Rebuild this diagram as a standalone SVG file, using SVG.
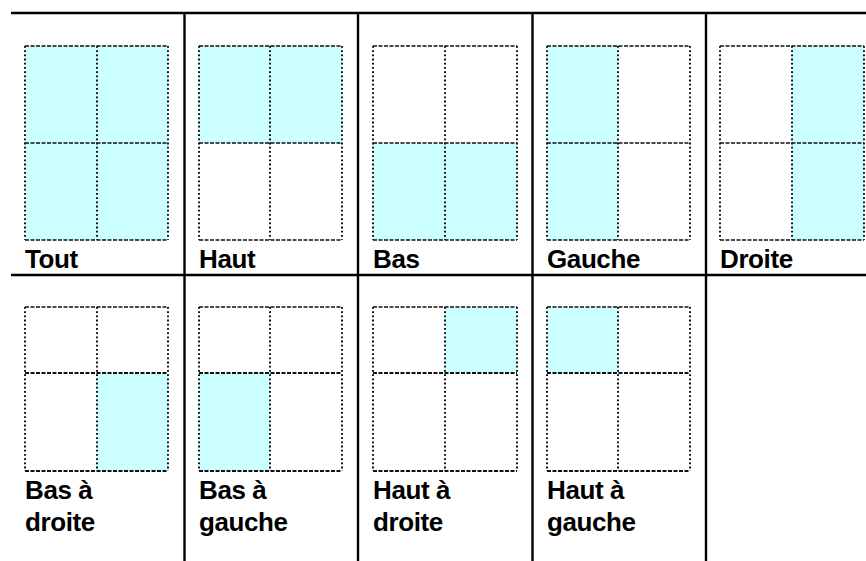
<svg xmlns="http://www.w3.org/2000/svg" width="866" height="561" viewBox="0 0 866 561">
<style>
.tbl{stroke:#000;stroke-width:2.4;fill:none}
.fill{fill:#CCFFFF;stroke:none}
.h{stroke:#111;stroke-width:1.6;stroke-dasharray:4 1.5;fill:none}
.hb{stroke:#111;stroke-width:2.2;stroke-dasharray:4 1.5;fill:none}
.v{stroke:#111;stroke-width:2;stroke-dasharray:1.8 2.4;fill:none}
.lbl{font-family:"Liberation Sans",Arial,sans-serif;font-weight:bold;font-size:26px;letter-spacing:-0.4px;fill:#000}
</style>
<rect width="866" height="561" fill="#fff"/>
<g id="table">
<path class="tbl" d="M11 13H866M11 275H866M184.5 13V561M358 13V561M532.5 13V561M706 13V561"/>
</g>
<!-- Row 1 -->
<g id="tout">
<rect class="fill" x="25" y="46" width="143" height="194"/>
<path class="h" d="M25 46H168M25 143H168M25 240H168"/>
<path class="v" d="M25 46V240M97 46V240M168 46V240"/>
<text class="lbl" x="25" y="268">Tout</text>
</g>
<g id="haut">
<rect class="fill" x="199" y="46" width="143" height="97"/>
<path class="h" d="M199 46H342M199 143H342M199 240H342"/>
<path class="v" d="M199 46V240M270 46V240M342 46V240"/>
<text class="lbl" x="199" y="268">Haut</text>
</g>
<g id="bas">
<rect class="fill" x="373" y="143" width="144" height="97"/>
<path class="h" d="M373 46H517M373 143H517M373 240H517"/>
<path class="v" d="M373 46V240M445 46V240M517 46V240"/>
<text class="lbl" x="373" y="268">Bas</text>
</g>
<g id="gauche">
<rect class="fill" x="547" y="46" width="71" height="194"/>
<path class="h" d="M547 46H690M547 143H690M547 240H690"/>
<path class="v" d="M547 46V240M618 46V240M690 46V240"/>
<text class="lbl" x="547" y="268">Gauche</text>
</g>
<g id="droite">
<rect class="fill" x="792" y="46" width="72" height="194"/>
<path class="h" d="M720 46H864M720 143H864M720 240H864"/>
<path class="v" d="M720 46V240M792 46V240M864 46V240"/>
<text class="lbl" x="720" y="268">Droite</text>
</g>
<!-- Row 2 -->
<g id="bas-a-droite">
<rect class="fill" x="97" y="373" width="71" height="98"/>
<path class="h" d="M25 307H168"/>
<path class="hb" d="M25 373H168M25 471H168"/>
<path class="v" d="M25 307V471M97 307V471M168 307V471"/>
<text class="lbl" x="25" y="499">Bas à</text>
<text class="lbl" x="25" y="531">droite</text>
</g>
<g id="bas-a-gauche">
<rect class="fill" x="199" y="373" width="71" height="98"/>
<path class="h" d="M199 307H342"/>
<path class="hb" d="M199 373H342M199 471H342"/>
<path class="v" d="M199 307V471M270 307V471M342 307V471"/>
<text class="lbl" x="199" y="499">Bas à</text>
<text class="lbl" x="199" y="531">gauche</text>
</g>
<g id="haut-a-droite">
<rect class="fill" x="445" y="307" width="72" height="66"/>
<path class="h" d="M373 307H517"/>
<path class="hb" d="M373 373H517M373 471H517"/>
<path class="v" d="M373 307V471M445 307V471M517 307V471"/>
<text class="lbl" x="373" y="499">Haut à</text>
<text class="lbl" x="373" y="531">droite</text>
</g>
<g id="haut-a-gauche">
<rect class="fill" x="547" y="307" width="71" height="66"/>
<path class="h" d="M547 307H690"/>
<path class="hb" d="M547 373H690M547 471H690"/>
<path class="v" d="M547 307V471M618 307V471M690 307V471"/>
<text class="lbl" x="547" y="499">Haut à</text>
<text class="lbl" x="547" y="531">gauche</text>
</g>
</svg>
